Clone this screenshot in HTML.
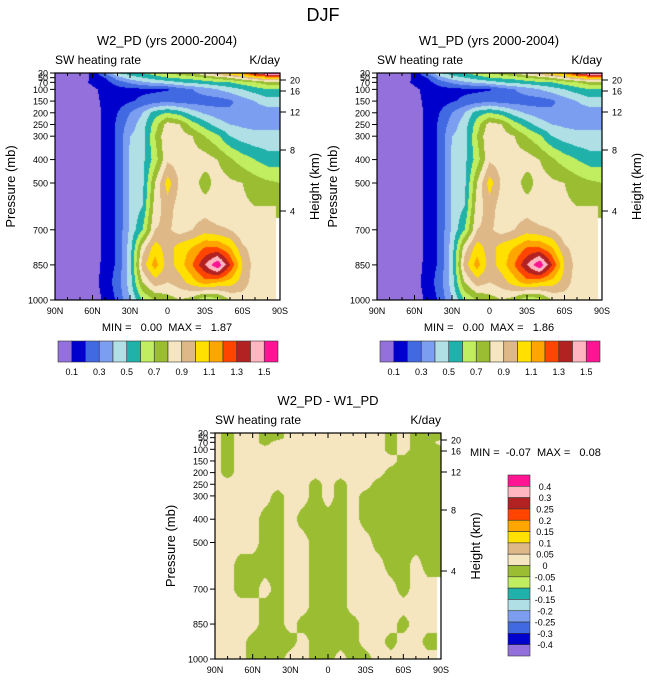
<!DOCTYPE html>
<html><head><meta charset="utf-8"><style>
body{margin:0;background:#fff;width:647px;height:683px;overflow:hidden;font-family:"Liberation Sans",sans-serif}
#wrap{position:relative;width:647px;height:683px}
canvas,svg{position:absolute;left:0;top:0}
text{white-space:pre}
</style></head><body>
<div id="wrap">
<canvas id="cv" width="647" height="683"></canvas>
<svg id="sv" width="647" height="683"></svg>
</div>
<script>
const latLabels=["90N","60N","30N","0","30S","60S","90S"];
const pLevels=[30,50,70,100,150,200,250,300,400,500,600,700,775,850,925,1000];
const pTicks=[30,50,70,100,150,200,250,300,400,500,700,850,1000];
const hTicks=[20,16,12,8,4];
const hOffsets=[7,18,39,77,138];
const topLevels=[0.1,0.2,0.3,0.4,0.5,0.6,0.7,0.8,0.9,1.0,1.1,1.2,1.3,1.4,1.5];
const topColors=["#9370DB","#0000CD","#4169E1","#7B9EF0","#B0E0E6","#20B2AA","#C0EE60","#9ABD32","#F5E6C0","#DEB887","#FFE000","#FFA500","#FF4500","#B22222","#FFB6C1","#FF1493"];
const topCbLabels=["0.1","0.3","0.5","0.7","0.9","1.1","1.3","1.5"];
const diffLevels=[-0.4,-0.3,-0.25,-0.2,-0.15,-0.1,-0.05,0,0.05,0.1,0.15,0.2,0.25,0.3,0.4];
const diffCbLabels=["0.4","0.3","0.25","0.2","0.15","0.1","0.05","0","-0.05","-0.1","-0.15","-0.2","-0.25","-0.3","-0.4"];
const N=null;
const w2Data=[
[.05,.05,.05,.12,.3,.5,.55,.6,.65,.7,.75,.8,.9,1.0,1.1,1.2,1.4,1.6,1.6],
[.05,.05,.05,.12,.2,.35,.45,.5,.55,.6,.62,.65,.7,.75,.8,.9,1.0,1.1,1.1],
[.05,.05,.06,.12,.16,.25,.32,.38,.42,.45,.5,.52,.55,.58,.6,.65,.7,.75,.75],
[.05,.05,.05,.08,.13,.16,.17,.18,.18,.19,.25,.3,.35,.4,.45,.5,.55,.6,.6],
[.05,.05,.05,.06,.13,.15,.19,.22,.25,.28,.25,.25,.25,.25,.28,.35,.4,.45,.45],
[.05,.05,.05,.05,.12,.2,.3,.4,.55,.6,.55,.45,.38,.35,.32,.32,.35,.35,.35],
[.05,.05,.05,.05,.12,.22,.35,.45,.65,.85,.8,.65,.55,.45,.4,.38,.38,.38,.38],
[.05,.05,.05,.05,.12,.22,.4,.45,.7,.9,.85,.8,.7,.62,.5,.45,.42,.42,.42],
[.05,.05,.05,.05,.12,.22,.42,.47,.65,.88,.85,.85,.85,.8,.72,.65,.6,.55,.55],
[.05,.05,.05,.05,.12,.22,.42,.47,.8,1.05,.88,.85,.75,.85,.82,.8,.75,.72,.7],
[.05,.05,.05,.05,.12,.22,.42,.5,.85,.95,.85,.85,.85,.82,.82,.82,.8,.8,.75],
[.05,.05,.05,.05,.12,.22,.42,.6,.9,.92,.85,.9,.95,.92,.9,.82,.8,.8,N],
[.05,.05,.05,.05,.12,.22,.45,.85,1.05,.95,1.05,1.1,1.2,1.2,1.1,.92,.85,.82,N],
[.05,.05,.05,.05,.13,.22,.45,.95,1.15,.95,1.05,1.2,1.4,1.6,1.3,1.0,.85,.8,N],
[.05,.05,.05,.06,.14,.25,.45,.8,.95,.9,.95,1.05,1.15,1.1,1.05,.95,.85,.8,N],
[.05,.05,.05,.05,.12,.22,.4,.6,.7,.75,.8,.75,.6,.65,.8,.85,.85,.8,N]];
const w1Data=w2Data;
const a=.02,b=-.02;
const diffData=[
[a,b,a,a,b,b,a,a,a,a,a,a,a,a,b,a,b,b,b],
[a,b,a,a,b,b,a,a,a,a,a,a,a,a,b,a,b,b,b],
[a,b,a,a,b,a,a,a,a,a,a,a,a,a,b,a,b,b,a],
[a,b,a,a,a,a,a,a,a,a,a,a,a,a,b,a,b,b,b],
[a,b,a,a,a,a,a,a,a,a,a,a,a,a,a,b,b,b,b],
[a,b,a,a,a,a,a,a,a,a,a,a,a,a,b,b,b,b,b],
[a,a,a,a,a,a,a,a,b,a,b,a,a,b,b,b,b,b,b],
[a,a,a,a,a,b,a,a,b,a,b,a,b,b,b,b,b,b,b],
[a,a,a,a,b,b,a,b,b,b,b,a,b,b,b,b,b,b,b],
[a,a,a,a,b,b,a,a,b,b,b,a,a,b,b,b,b,b,b],
[a,a,b,b,b,b,a,a,b,b,b,a,a,a,b,b,a,b,b],
[a,a,b,b,a,b,a,a,b,b,b,a,a,a,a,b,a,a,N],
[a,a,a,a,b,b,a,a,b,b,b,a,a,a,a,a,a,a,N],
[a,a,a,a,b,b,a,b,b,b,b,b,a,a,a,b,a,a,N],
[a,a,a,b,b,b,b,a,b,b,b,b,a,a,b,a,a,b,N],
[a,a,a,b,b,b,a,a,b,b,a,b,b,a,a,a,a,a,N]];

const panels=[
 {x0:55,y0:73,w:225,h:227,data:w2Data,levels:topLevels,colors:topColors,title:"W2_PD (yrs 2000-2004)",tx:167,minmax:"MIN =   0.00  MAX =   1.87",id:"w2"},
 {x0:377,y0:73,w:225,h:227,data:w1Data,levels:topLevels,colors:topColors,title:"W1_PD (yrs 2000-2004)",tx:489,minmax:"MIN =   0.00  MAX =   1.86",id:"w1"},
 {x0:215,y0:433,w:226,h:226,data:diffData,levels:diffLevels,colors:topColors,title:"W2_PD - W1_PD",tx:328,minmax:null,id:"diff"}];

function pToFrac(p){return (p-30)/970;}
function lookup(data,fx,p){
  const nc=data[0].length; const c=fx*(nc-1); let c0=Math.min(Math.floor(c),nc-2); const tc=c-c0;
  let r0=0; while(r0<pLevels.length-2&&pLevels[r0+1]<p)r0++;
  const tr=Math.max(0,Math.min(1,(p-pLevels[r0])/(pLevels[r0+1]-pLevels[r0])));
  const v00=data[r0][c0],v01=data[r0][c0+1],v10=data[r0+1][c0],v11=data[r0+1][c0+1];
  if(v00===null||v01===null||v10===null||v11===null){
    const nr=tr<.5?r0:r0+1, ncn=tc<.7?c0:c0+1; return data[nr][ncn];
  }
  return (v00*(1-tc)+v01*tc)*(1-tr)+(v10*(1-tc)+v11*tc)*tr;
}
function colorFor(v,levels,colors){
  let i=0; while(i<levels.length&&v>=levels[i])i++; return colors[i];
}
const cv=document.getElementById('cv'),ctx=cv.getContext('2d');
panels.forEach(P=>{
  for(let py=0;py<P.h;py++){
    const p=30+970*(py+0.5)/P.h;
    for(let px=0;px<P.w;px++){
      const v=lookup(P.data,(px+0.5)/P.w,p);
      if(v===null){ctx.fillStyle="#fff";}else ctx.fillStyle=colorFor(v,P.levels,P.colors);
      ctx.fillRect(P.x0+px,P.y0+py,1,1);
    }
  }
});
const NS="http://www.w3.org/2000/svg",sv=document.getElementById('sv');
function el(tag,attrs,txt){const e=document.createElementNS(NS,tag);for(const k in attrs)e.setAttribute(k,attrs[k]);if(txt!==undefined)e.textContent=txt;sv.appendChild(e);return e;}
let t=el('text',{x:323,y:21,'font-size':18,'text-anchor':'middle'},"DJF");


panels.forEach(P=>{
  const g=el('rect',{x:P.x0,y:P.y0,width:P.w,height:P.h,fill:'none',stroke:'#000','stroke-width':1.2});
  
  
  t=el('text',{x:P.tx,y:P.y0-28,'font-size':13,'text-anchor':'middle'},P.title);
  
  
  t=el('text',{x:P.x0,y:P.y0-9,'font-size':12},"SW heating rate");
  
  
  t=el('text',{x:P.x0+P.w,y:P.y0-9,'font-size':12,'text-anchor':'end'},"K/day");
  
  
  for(let i=0;i<=18;i++){
    const x=P.x0+P.w*i/18, major=i%3===0, L=major?5:3;
    el('line',{x1:x,y1:P.y0+P.h,x2:x,y2:P.y0+P.h-L,stroke:'#000'});
    el('line',{x1:x,y1:P.y0,x2:x,y2:P.y0+L,stroke:'#000'});
  }
  latLabels.forEach((lb,i)=>{
    t=el('text',{x:P.x0+P.w*i/6,y:P.y0+P.h+14,'font-size':9,'text-anchor':'middle'},lb);
    
    
  });
  pTicks.forEach(p=>{
    const y=P.y0+P.h*pToFrac(p);
    el('line',{x1:P.x0,y1:y,x2:P.x0-5,y2:y,stroke:'#000'});
    t=el('text',{x:P.x0-7,y:y+3.5,'font-size':9,'text-anchor':'end'},String(p));
    
    
  });
  hTicks.forEach((h,i)=>{
    const y=P.y0+hOffsets[i];
    el('line',{x1:P.x0+P.w,y1:y,x2:P.x0+P.w+6,y2:y,stroke:'#000'});
    t=el('text',{x:P.x0+P.w+10,y:y+3.5,'font-size':9},String(h));
    
    
  });
  const cy=P.y0+P.h/2;
  t=el('text',{x:0,y:0,'font-size':13,'text-anchor':'middle',transform:`translate(${P.x0-40},${cy}) rotate(-90)`},"Pressure (mb)");
  
  
  t=el('text',{x:0,y:0,'font-size':13,'text-anchor':'middle',transform:`translate(${P.x0+P.w+39},${cy}) rotate(-90)`},"Height (km)");
  
  
  if(P.minmax){
    t=el('text',{x:P.tx,y:P.y0+P.h+31,'font-size':11,'text-anchor':'middle'},P.minmax);
    
    
    const bx=P.x0+3,bw=220/16;
    topColors.forEach((c,i)=>{
      const r=el('rect',{x:bx+i*bw,y:341,width:bw,height:21,fill:c,stroke:'#333','stroke-width':0.6});
      
      
    });
    topCbLabels.forEach((lb,i)=>{
      t=el('text',{x:bx+(2*i+1)*bw,y:375,'font-size':9,'text-anchor':'middle'},lb);
      
      
    });
  }
});
t=el('text',{x:470,y:456,'font-size':11},"MIN =  -0.07  MAX =   0.08");


const dcol=topColors.slice().reverse(), bh=181/16;
dcol.forEach((c,i)=>{
  const r=el('rect',{x:508,y:475+i*bh,width:22,height:bh,fill:c,stroke:'#333','stroke-width':0.6});
  
  
});
diffCbLabels.forEach((lb,i)=>{
  t=el('text',{x:545,y:475+(i+1)*bh+3.5,'font-size':9,'text-anchor':'middle'},lb);
  
  
});
</script>
</body></html>
